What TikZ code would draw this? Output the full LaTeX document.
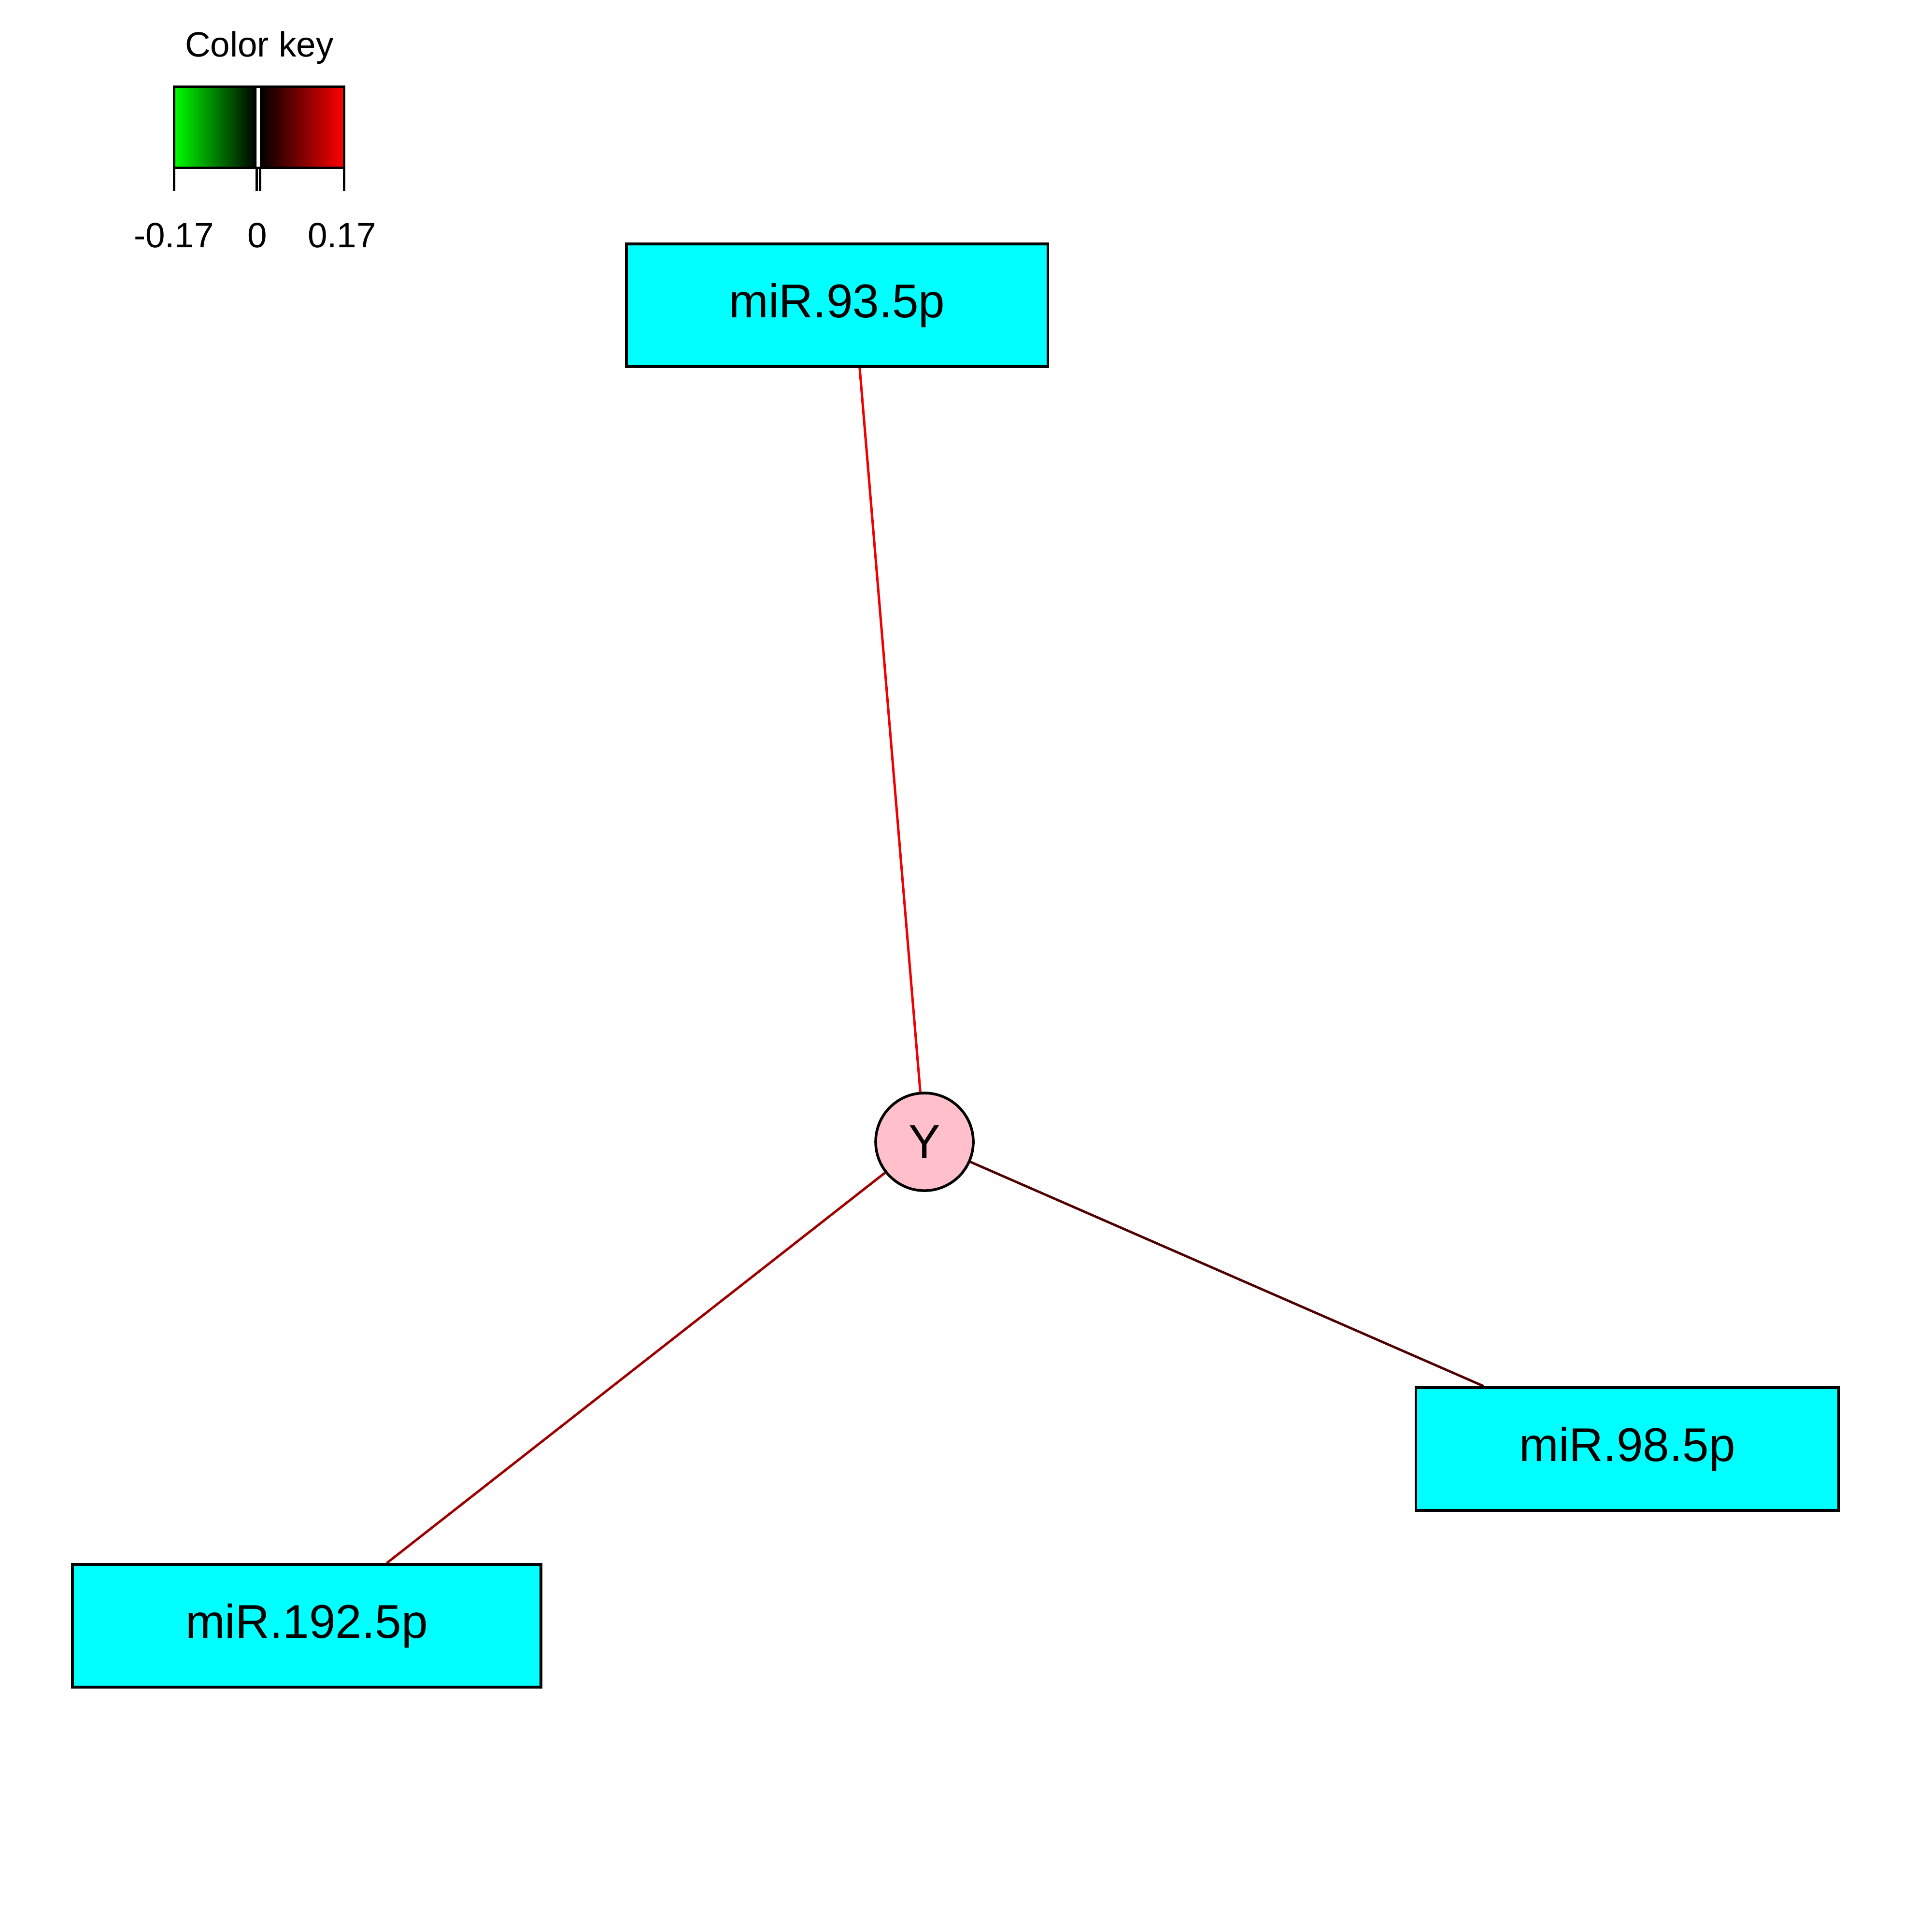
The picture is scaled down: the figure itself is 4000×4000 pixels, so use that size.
\documentclass[tikz,border=0pt]{standalone}
\usepackage{fontspec}
\setmainfont{Liberation Sans}
\usetikzlibrary{backgrounds}
\definecolor{mircyan}{HTML}{00FFFF}
\definecolor{genepink}{HTML}{FFC0CB}
\definecolor{keygreen}{HTML}{00FF00}
\definecolor{keyred}{HTML}{FF0000}
\definecolor{edgehigh}{HTML}{F00000}
\definecolor{edgemid}{HTML}{9E0000}
\definecolor{edgelow}{HTML}{500000}
\tikzset{
  mirbox/.style={draw,fill=mircyan,line width=0.055cm,minimum height=2.54cm,inner sep=0pt,font=\fontsize{27.9}{33}\selectfont},
  genenode/.style={circle,draw,fill=genepink,line width=0.055cm,minimum size=2.02cm,inner sep=0pt,font=\fontsize{27.9}{33}\selectfont},
  corr/.style={line width=0.05cm},
  keytext/.style={font=\fontsize{20.7}{25}\selectfont,anchor=base,inner sep=0pt}
}

\begin{document}
\begin{tikzpicture}[x=0.01cm,y=-0.01cm]
  \useasboundingbox (0,0) rectangle (4000,4000);
  % colour key
  \node[keytext] (keytitle) at (537,118) {Color key};
  \shade[left color=keygreen,right color=black] (360,180) rectangle (531,348);
  \shade[left color=black,right color=keyred] (538,180) rectangle (712,348);
  \draw[line width=0.05cm] (360,180) rectangle (712,348);
  \foreach \x in {360,531,538,712} {\draw[line width=0.05cm] (\x,348)--(\x,395);}
  \foreach \x/\l/\n in {360/-0.17/kmin,533/0/kzero,708/0.17/kmax} {\node[keytext] (\n) at (\x,512) {\l};}
  % network
  \node[mirbox,minimum width=8.72cm] (m93) at (1733,632) {miR.93.5p};
  \node[mirbox,minimum width=8.75cm] (m98) at (3369,3000) {miR.98.5p};
  \node[mirbox,minimum width=9.69cm] (m192) at (635,3366) {miR.192.5p};
  \node[genenode] (Y) at (1914,2364) {Y};
  \coordinate (t93) at (1769,632);
  \begin{scope}[on background layer]
    \draw[corr,edgehigh] (Y) -- (t93);
    \draw[corr,edgelow] (Y) -- (m98);
    \draw[corr,edgemid] (Y) -- (m192);
  \end{scope}
\end{tikzpicture}
\end{document}
